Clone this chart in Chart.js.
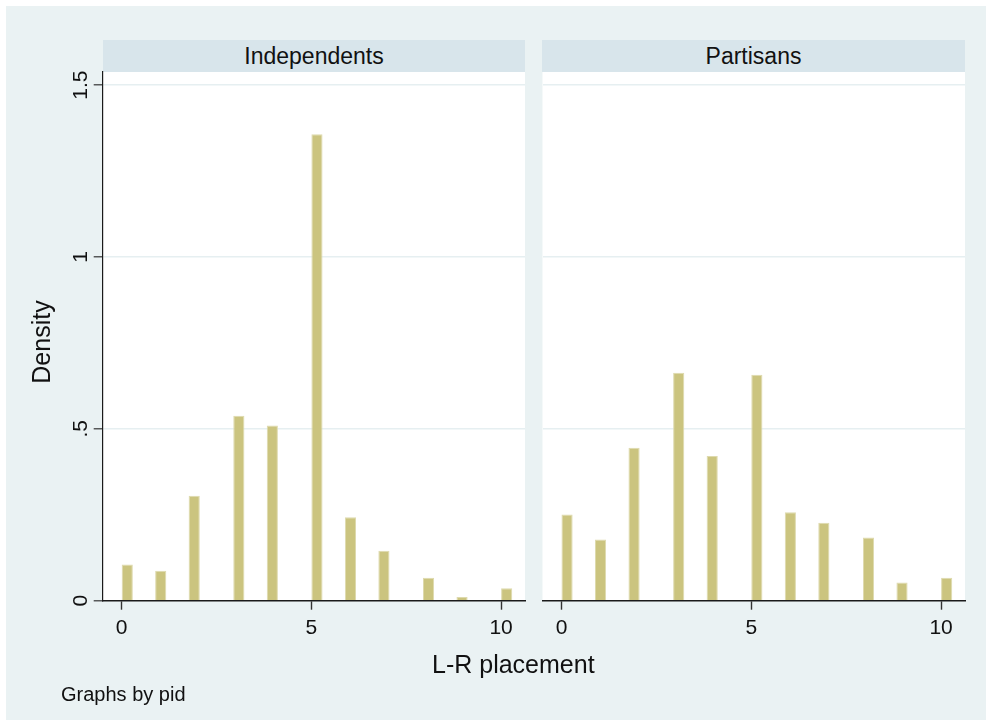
<!DOCTYPE html>
<html>
<head>
<meta charset="utf-8">
<title>L-R placement by pid</title>
<script src="https://cdn.jsdelivr.net/npm/chart.js@4/dist/chart.umd.min.js"></script>
<style>
  html, body { margin: 0; padding: 0; background: #ffffff; }
  body { width: 986px; height: 720px; position: relative; overflow: hidden;
         font-family: "Liberation Sans", Arial, Helvetica, sans-serif; color: #111; }
  #bg { position: absolute; left: 6px; top: 6px; right: 0; bottom: 0; background: #EAF2F3; }
  .hdr { position: absolute; top: 40px; height: 32px; background: #D8E5EB;
         font-size: 23px; line-height: 32px; text-align: center; white-space: nowrap; }
  canvas { position: absolute; left: 0; top: 0; }
  .txt { position: absolute; white-space: nowrap; }
  #ytitle { left: -58.7px; top: 327px; width: 200px; height: 30px; line-height: 30px;
            font-size: 25px; text-align: center; transform: rotate(-90deg); }
  #xtitle { left: 432px; top: 649px; height: 30px; line-height: 30px; font-size: 25px; }
  #note { left: 61px; top: 684px; height: 20px; line-height: 20px; font-size: 20px; }
</style>
</head>
<body>
<div id="bg"></div>
<div class="hdr" id="hdr0" style="left:103px;width:422px;"></div>
<div class="hdr" id="hdr1" style="left:542px;width:423px;"></div>
<canvas id="c0" width="986" height="720"></canvas>
<canvas id="c1" width="986" height="720"></canvas>
<div class="txt" id="ytitle">Density</div>
<div class="txt" id="xtitle">L-R placement</div>
<div class="txt" id="note">Graphs by pid</div>
<script>
// L-R placement scores (0 = left, 10 = right)
const placements = [0, 1, 2, 3, 4, 5, 6, 7, 8, 9, 10];
// panel titles (one histogram per pid group)
const groups = ["Independents", "Partisans"];
// histogram densities for each placement's bin
const densityIndependents = [0.105, 0.087, 0.305, 0.538, 0.510, 1.357, 0.243, 0.145, 0.067, 0.011, 0.036];
const densityPartisans    = [0.251, 0.178, 0.445, 0.663, 0.421, 0.657, 0.257, 0.227, 0.184, 0.053, 0.067];
// histogram bins: 34 equal bins over 0-10
const binCount = 34;
const binLow = 0, binHigh = 10;
// axis ticks
const xTickValues = [0, 5, 10];
const yTickValues = [0, 0.5, 1, 1.5];
const yTickLabels = ["0", ".5", "1", "1.5"];

const FONT = '"Liberation Sans", Arial, Helvetica, sans-serif';
Chart.defaults.font.family = FONT;

const binWidth = (binHigh - binLow) / binCount;
function binCenter(v) {
  const k = Math.floor((v - binLow) / binWidth + 1e-9);
  return binLow + (k + 0.5) * binWidth;
}
const centers = placements.map(binCenter);
// bar width = one bin, expressed relative to the closest spacing of bar centres
let minGap = Infinity;
for (let i = 1; i < centers.length; i++) minGap = Math.min(minGap, centers[i] - centers[i - 1]);
const barFrac = binWidth / minGap;

document.getElementById('hdr0').textContent = groups[0];
document.getElementById('hdr1').textContent = groups[1];

const plotBg = {
  id: 'plotBg',
  beforeDraw(chart) {
    const a = chart.chartArea, ctx = chart.ctx;
    ctx.save();
    ctx.fillStyle = '#ffffff';
    ctx.fillRect(a.left, a.top, a.right - a.left, a.bottom - a.top);
    ctx.restore();
  }
};

// rotated y tick labels, reading bottom to top
const yLabels = {
  id: 'yLabels',
  afterDraw(chart, args, opts) {
    if (!opts.show) return;
    const s = chart.scales.y, ctx = chart.ctx;
    ctx.save();
    ctx.fillStyle = '#111';
    ctx.font = '21px ' + FONT;
    ctx.textAlign = 'center';
    ctx.textBaseline = 'alphabetic';
    yTickValues.forEach((v, i) => {
      const y = s.getPixelForValue(v);
      ctx.save();
      ctx.translate(s.left - 7, y);
      ctx.rotate(-Math.PI / 2);
      ctx.fillText(yTickLabels[i], 0, 0);
      ctx.restore();
    });
    ctx.restore();
  }
};

function makePanel(id, values, area, showY) {
  const W = 986, H = 720, yAxisW = showY ? 9 : 0, xAxisH = 40;
  return new Chart(document.getElementById(id), {
    type: 'bar',
    data: {
      datasets: [{
        data: values.map((d, i) => ({ x: centers[i], y: d })),
        backgroundColor: '#CBC47F',
        borderColor: '#DEDAAE',
        borderWidth: 1,
        borderSkipped: 'bottom',
        categoryPercentage: 1,
        barPercentage: barFrac
      }]
    },
    plugins: [plotBg, yLabels],
    options: {
      responsive: false,
      animation: false,
      events: [],
      layout: { padding: {
        left: area.left - yAxisW, right: W - area.right,
        top: area.top, bottom: H - area.bottom - xAxisH } },
      plugins: { legend: { display: false }, tooltip: { enabled: false }, yLabels: { show: showY } },
      scales: {
        x: {
          type: 'linear', min: -0.5, max: 10.63, offset: false,
          afterBuildTicks: s => { s.ticks = xTickValues.map(v => ({ value: v })); },
          afterFit: s => { s.height = xAxisH; },
          grid: { drawOnChartArea: false, offset: false, tickLength: 9, tickColor: '#333', tickWidth: 1.4 },
          border: { display: true, color: '#1a1a1a', width: 1.4 },
          ticks: { color: '#111', font: { size: 21 }, padding: 6, maxRotation: 0, autoSkip: false,
                   callback: v => String(v) }
        },
        y: {
          type: 'linear', min: 0, max: 1.538,
          afterBuildTicks: s => { s.ticks = yTickValues.map(v => ({ value: v })); },
          afterFit: s => { s.width = yAxisW; },
          grid: {
            color: c => (c.tick && c.tick.value === 0) ? 'rgba(0,0,0,0)' : '#E6EFF1',
            lineWidth: 1.6, drawTicks: showY, tickLength: 9, tickColor: '#333', tickWidth: 1.2
          },
          border: { display: showY, color: '#1a1a1a', width: 1.2 },
          ticks: { display: false }
        }
      }
    }
  });
}

makePanel('c0', densityIndependents, { left: 102.7, right: 525, top: 72, bottom: 600.7 }, true);
makePanel('c1', densityPartisans,   { left: 542.5, right: 965, top: 72, bottom: 600.7 }, false);
</script>
</body>
</html>
